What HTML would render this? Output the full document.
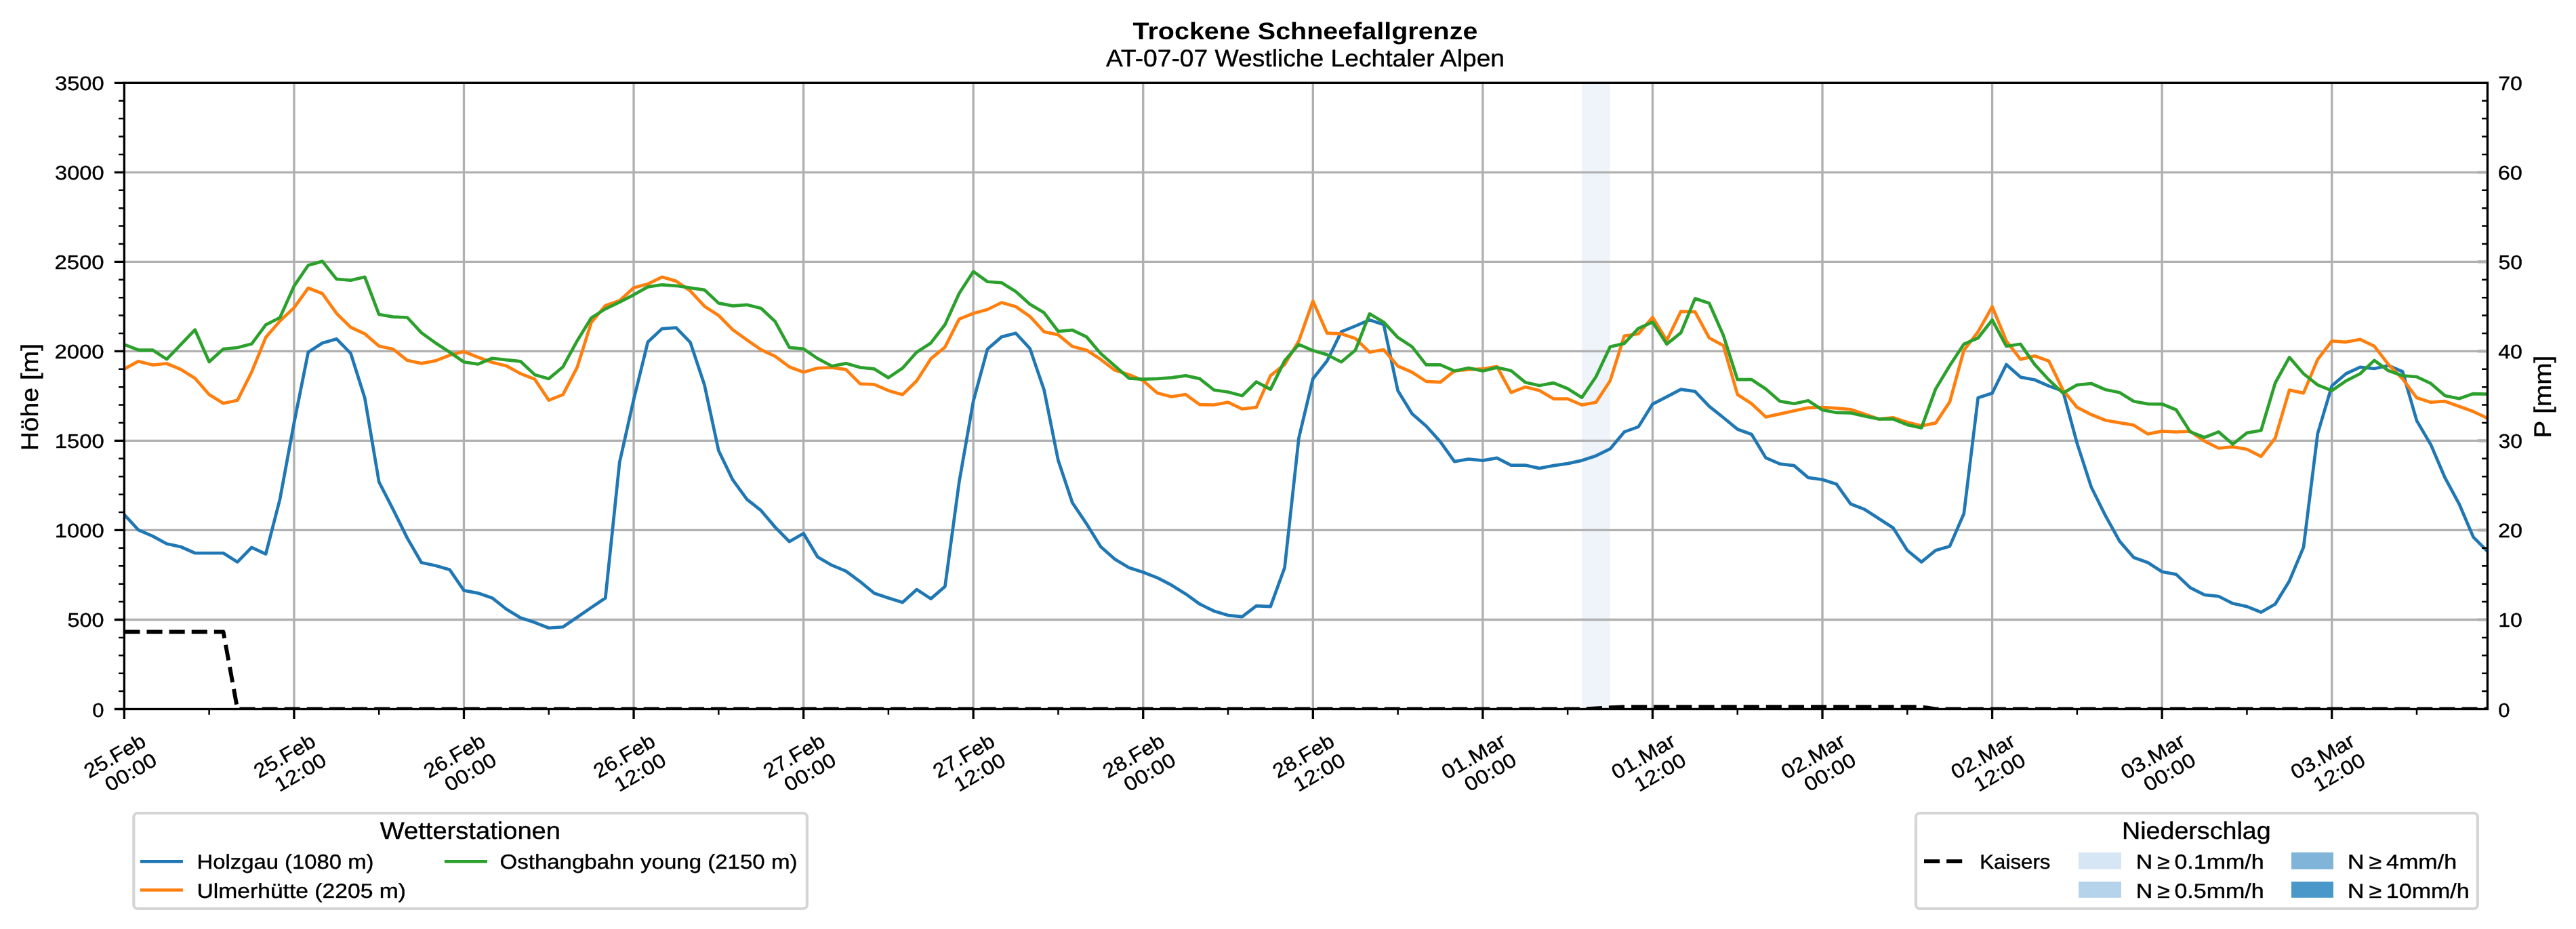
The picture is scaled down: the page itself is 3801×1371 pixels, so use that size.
<!DOCTYPE html>
<html><head><meta charset="utf-8"><title>Trockene Schneefallgrenze</title><style>html,body{margin:0;padding:0;background:#fff;overflow:hidden}svg{display:block;will-change:transform}text{font-family:"Liberation Sans",sans-serif;stroke:#000;stroke-width:0.4px}</style></head><body>
<svg width="3801" height="1371" viewBox="0 0 3801 1371" font-family="Liberation Sans, sans-serif" stroke-linejoin="round" text-rendering="geometricPrecision">
<rect x="0" y="0" width="3801" height="1371" fill="#ffffff"/>
<defs><clipPath id="ax"><rect x="183.35" y="122.3" width="3487.05" height="924.2"/></clipPath></defs>
<rect x="2334.05" y="122.3" width="41.76" height="924.2" fill="#eef4fa"/>
<path d="M433.92 122.3V1046.5M684.48 122.3V1046.5M935.05 122.3V1046.5M1185.62 122.3V1046.5M1436.18 122.3V1046.5M1686.75 122.3V1046.5M1937.32 122.3V1046.5M2187.88 122.3V1046.5M2438.45 122.3V1046.5M2689.01 122.3V1046.5M2939.58 122.3V1046.5M3190.15 122.3V1046.5M3440.71 122.3V1046.5M183.35 914.47H3670.4M183.35 782.44H3670.4M183.35 650.41H3670.4M183.35 518.39H3670.4M183.35 386.36H3670.4M183.35 254.33H3670.4" stroke="#b0b0b0" stroke-width="3.333" fill="none"/>
<g clip-path="url(#ax)" fill="none" stroke-width="4.7" stroke-linejoin="round" stroke-linecap="square">
<path d="M183.35 759.47 L204.23 782.18 L225.11 791.16 L245.99 802.51 L266.87 807.00 L287.75 816.24 L308.63 816.24 L329.51 816.24 L350.39 829.45 L371.27 807.79 L392.16 817.56 L413.04 736.76 L433.92 624.01 L454.80 519.73 L475.68 506.24 L496.56 500.17 L517.44 521.29 L538.32 587.57 L559.20 711.23 L580.08 751.92 L600.96 794.11 L621.84 830.29 L642.72 834.81 L663.60 840.83 L684.48 871.43 L705.36 875.35 L726.24 882.44 L747.12 899.02 L768.01 911.67 L788.89 918.59 L809.77 926.72 L830.65 925.22 L851.53 911.07 L872.41 896.59 L893.29 882.44 L914.17 682.60 L935.05 589.68 L955.93 504.68 L976.81 485.09 L997.69 483.58 L1018.57 505.26 L1039.45 567.98 L1060.33 664.94 L1081.21 708.24 L1102.09 736.87 L1122.97 753.42 L1143.85 778.14 L1164.74 799.24 L1185.62 787.20 L1206.50 822.00 L1227.38 834.20 L1248.26 842.94 L1269.14 858.31 L1290.02 875.50 L1310.90 882.44 L1331.78 889.07 L1352.66 870.06 L1373.54 883.63 L1394.42 865.54 L1415.30 711.23 L1436.18 592.06 L1457.06 515.22 L1477.94 497.13 L1498.82 491.72 L1519.70 514.32 L1540.59 575.50 L1561.47 679.59 L1582.35 741.99 L1603.23 773.02 L1624.11 806.79 L1644.99 825.17 L1665.87 837.82 L1686.75 844.44 L1707.63 852.59 L1728.51 863.43 L1749.39 876.39 L1770.27 891.47 L1791.15 901.72 L1812.03 908.05 L1832.91 910.17 L1853.79 894.19 L1874.67 895.09 L1895.55 837.82 L1916.43 646.45 L1937.32 558.92 L1958.20 532.55 L1979.08 489.60 L1999.96 481.15 L2020.84 472.12 L2041.72 479.04 L2062.60 576.48 L2083.48 610.41 L2104.36 628.76 L2125.24 651.92 L2146.12 681.18 L2167.00 677.53 L2187.88 679.65 L2208.76 675.86 L2229.64 686.54 L2250.52 686.54 L2271.40 691.08 L2292.28 687.12 L2313.16 684.11 L2334.05 679.59 L2354.93 672.67 L2375.81 662.43 L2396.69 637.40 L2417.57 629.87 L2438.45 596.28 L2459.33 585.72 L2480.21 574.68 L2501.09 577.69 L2521.97 599.69 L2542.85 616.27 L2563.73 633.44 L2584.61 640.99 L2605.49 675.63 L2626.37 684.69 L2647.25 687.09 L2668.13 704.89 L2689.01 707.71 L2709.90 714.58 L2730.78 743.78 L2751.66 751.92 L2772.54 765.49 L2793.42 779.04 L2814.30 812.20 L2835.18 829.39 L2856.06 812.20 L2876.94 806.18 L2897.82 757.96 L2918.70 587.07 L2939.58 580.18 L2960.46 537.93 L2981.34 556.62 L3002.22 560.53 L3023.10 569.59 L3043.98 577.11 L3064.86 654.38 L3085.74 718.78 L3106.63 760.98 L3127.51 798.63 L3148.39 822.76 L3169.27 830.29 L3190.15 843.70 L3211.03 847.66 L3231.91 867.36 L3252.79 877.90 L3273.67 880.01 L3294.55 890.57 L3315.43 895.09 L3336.31 903.54 L3357.19 891.47 L3378.07 857.41 L3398.95 807.69 L3419.83 639.85 L3440.71 569.59 L3461.59 551.50 L3482.48 541.89 L3503.36 544.00 L3524.24 539.46 L3545.12 548.49 L3566.00 620.84 L3586.88 656.38 L3607.76 705.21 L3628.64 743.78 L3649.52 792.61 L3670.40 813.71" stroke="#1f77b4"/>
<path d="M183.35 544.61 L204.23 533.17 L225.11 538.59 L245.99 536.47 L266.87 545.21 L287.75 558.18 L308.63 582.29 L329.51 595.23 L350.39 590.74 L371.27 549.12 L392.16 497.89 L413.04 473.76 L433.92 454.13 L454.80 425.03 L475.68 433.25 L496.56 462.48 L517.44 483.00 L538.32 492.61 L559.20 510.73 L580.08 515.22 L600.96 531.80 L621.84 536.34 L642.72 532.38 L663.60 524.27 L684.48 518.83 L705.36 527.28 L726.24 534.81 L747.12 539.93 L768.01 551.39 L788.89 559.53 L809.77 590.58 L830.65 582.42 L851.53 542.41 L872.41 476.03 L893.29 451.05 L914.17 443.79 L935.05 424.80 L955.93 419.06 L976.81 408.83 L997.69 414.88 L1018.57 429.32 L1039.45 451.92 L1060.33 465.50 L1081.21 486.59 L1102.09 501.67 L1122.97 516.11 L1143.85 525.78 L1164.74 541.44 L1185.62 549.28 L1206.50 543.26 L1227.38 542.36 L1248.26 545.37 L1269.14 566.47 L1290.02 567.37 L1310.90 576.40 L1331.78 582.42 L1352.66 561.96 L1373.54 529.40 L1394.42 512.21 L1415.30 470.91 L1436.18 462.48 L1457.06 456.74 L1477.94 446.51 L1498.82 452.53 L1519.70 467.00 L1540.59 489.60 L1561.47 494.12 L1582.35 511.31 L1603.23 516.72 L1624.11 530.29 L1644.99 546.27 L1665.87 552.90 L1686.75 561.69 L1707.63 580.00 L1728.51 585.46 L1749.39 582.13 L1770.27 597.21 L1791.15 597.50 L1812.03 593.59 L1832.91 603.54 L1853.79 601.11 L1874.67 554.40 L1895.55 537.82 L1916.43 503.18 L1937.32 444.40 L1958.20 491.72 L1979.08 492.61 L1999.96 499.56 L2020.84 519.73 L2041.72 516.11 L2062.60 540.25 L2083.48 549.28 L2104.36 562.85 L2125.24 564.04 L2146.12 547.46 L2167.00 545.37 L2187.88 544.45 L2208.76 540.90 L2229.64 579.22 L2250.52 571.09 L2271.40 576.21 L2292.28 588.57 L2313.16 588.57 L2334.05 597.60 L2354.93 593.69 L2375.81 562.06 L2396.69 495.76 L2417.57 492.72 L2438.45 468.21 L2459.33 502.54 L2480.21 459.55 L2501.09 460.13 L2521.97 498.71 L2542.85 509.88 L2563.73 582.21 L2584.61 595.75 L2605.49 615.35 L2626.37 610.83 L2647.25 606.32 L2668.13 601.80 L2689.01 601.04 L2709.90 602.36 L2730.78 604.26 L2751.66 611.18 L2772.54 618.41 L2793.42 616.30 L2814.30 623.22 L2835.18 628.37 L2856.06 624.43 L2876.94 593.09 L2897.82 516.85 L2918.70 489.71 L2939.58 452.64 L2960.46 503.07 L2981.34 530.40 L3002.22 525.28 L3023.10 532.83 L3043.98 575.61 L3064.86 601.22 L3085.74 611.78 L3106.63 620.23 L3127.51 623.85 L3148.39 627.44 L3169.27 640.41 L3190.15 636.42 L3211.03 637.48 L3231.91 636.50 L3252.79 650.97 L3273.67 661.50 L3294.55 659.39 L3315.43 663.01 L3336.31 673.57 L3357.19 646.45 L3378.07 575.61 L3398.95 580.12 L3419.83 530.40 L3440.71 503.28 L3461.59 504.79 L3482.48 500.88 L3503.36 510.81 L3524.24 537.93 L3545.12 559.05 L3566.00 587.07 L3586.88 593.69 L3607.76 592.19 L3628.64 599.72 L3649.52 607.27 L3670.40 617.20" stroke="#ff7f0e"/>
<path d="M183.35 508.43 L204.23 516.54 L225.11 516.54 L245.99 530.14 L266.87 508.43 L287.75 486.73 L308.63 534.07 L329.51 515.06 L350.39 512.97 L371.27 507.56 L392.16 479.31 L413.04 468.74 L433.92 422.16 L454.80 391.51 L475.68 385.62 L496.56 411.84 L517.44 413.66 L538.32 408.83 L559.20 463.99 L580.08 467.61 L600.96 468.48 L621.84 491.11 L642.72 506.19 L663.60 519.71 L684.48 534.23 L705.36 537.31 L726.24 528.79 L747.12 531.19 L768.01 533.30 L788.89 552.90 L809.77 558.92 L830.65 541.44 L851.53 503.18 L872.41 469.11 L893.29 455.86 L914.17 445.90 L935.05 435.05 L955.93 423.33 L976.81 420.29 L997.69 421.79 L1018.57 424.80 L1039.45 427.81 L1060.33 447.41 L1081.21 451.32 L1102.09 449.81 L1122.97 454.93 L1143.85 474.55 L1164.74 512.84 L1185.62 514.91 L1206.50 529.09 L1227.38 540.25 L1248.26 536.34 L1269.14 542.36 L1290.02 544.45 L1310.90 557.41 L1331.78 543.26 L1352.66 519.73 L1373.54 506.19 L1394.42 479.04 L1415.30 432.94 L1436.18 400.70 L1457.06 415.77 L1477.94 417.28 L1498.82 430.22 L1519.70 448.91 L1540.59 461.56 L1561.47 489.00 L1582.35 487.20 L1603.23 497.13 L1624.11 521.84 L1644.99 539.93 L1665.87 558.31 L1686.75 559.53 L1707.63 558.92 L1728.51 557.41 L1749.39 554.40 L1770.27 558.92 L1791.15 575.50 L1812.03 578.51 L1832.91 583.95 L1853.79 563.46 L1874.67 574.60 L1895.55 532.41 L1916.43 508.30 L1937.32 517.33 L1958.20 523.52 L1979.08 534.23 L1999.96 516.72 L2020.84 463.09 L2041.72 475.42 L2062.60 498.05 L2083.48 511.60 L2104.36 538.43 L2125.24 538.43 L2146.12 547.46 L2167.00 542.94 L2187.88 547.46 L2208.76 542.40 L2229.64 546.98 L2250.52 564.17 L2271.40 568.98 L2292.28 565.07 L2313.16 573.49 L2334.05 586.75 L2354.93 556.01 L2375.81 511.73 L2396.69 506.90 L2417.57 484.59 L2438.45 475.34 L2459.33 507.82 L2480.21 491.19 L2501.09 440.54 L2521.97 447.49 L2542.85 494.81 L2563.73 560.21 L2584.61 560.21 L2605.49 574.08 L2626.37 592.16 L2647.25 595.75 L2668.13 591.24 L2689.01 605.00 L2709.90 608.96 L2730.78 609.38 L2751.66 614.19 L2772.54 618.41 L2793.42 618.41 L2814.30 626.86 L2835.18 631.38 L2856.06 574.10 L2876.94 539.46 L2897.82 507.82 L2918.70 498.77 L2939.58 472.18 L2960.46 510.99 L2981.34 507.80 L3002.22 537.93 L3023.10 560.53 L3043.98 580.12 L3064.86 568.08 L3085.74 565.97 L3106.63 575.00 L3127.51 579.22 L3148.39 592.19 L3169.27 596.10 L3190.15 596.28 L3211.03 604.73 L3231.91 637.40 L3252.79 645.53 L3273.67 637.40 L3294.55 655.48 L3315.43 638.90 L3336.31 635.28 L3357.19 565.07 L3378.07 527.39 L3398.95 551.50 L3419.83 568.08 L3440.71 576.50 L3461.59 562.06 L3482.48 551.50 L3503.36 531.91 L3524.24 546.98 L3545.12 554.51 L3566.00 556.01 L3586.88 565.97 L3607.76 584.06 L3628.64 588.28 L3649.52 581.05 L3670.40 581.65" stroke="#2ca02c"/>
<path d="M183.35 932.56 L204.23 932.56 L225.11 932.56 L245.99 932.56 L266.87 932.56 L287.75 932.56 L308.63 932.56 L329.51 932.56 L350.39 1046.50 L371.27 1046.50 L392.16 1046.50 L413.04 1046.50 L433.92 1046.50 L454.80 1046.50 L475.68 1046.50 L496.56 1046.50 L517.44 1046.50 L538.32 1046.50 L559.20 1046.50 L580.08 1046.50 L600.96 1046.50 L621.84 1046.50 L642.72 1046.50 L663.60 1046.50 L684.48 1046.50 L705.36 1046.50 L726.24 1046.50 L747.12 1046.50 L768.01 1046.50 L788.89 1046.50 L809.77 1046.50 L830.65 1046.50 L851.53 1046.50 L872.41 1046.50 L893.29 1046.50 L914.17 1046.50 L935.05 1046.50 L955.93 1046.50 L976.81 1046.50 L997.69 1046.50 L1018.57 1046.50 L1039.45 1046.50 L1060.33 1046.50 L1081.21 1046.50 L1102.09 1046.50 L1122.97 1046.50 L1143.85 1046.50 L1164.74 1046.50 L1185.62 1046.50 L1206.50 1046.50 L1227.38 1046.50 L1248.26 1046.50 L1269.14 1046.50 L1290.02 1046.50 L1310.90 1046.50 L1331.78 1046.50 L1352.66 1046.50 L1373.54 1046.50 L1394.42 1046.50 L1415.30 1046.50 L1436.18 1046.50 L1457.06 1046.50 L1477.94 1046.50 L1498.82 1046.50 L1519.70 1046.50 L1540.59 1046.50 L1561.47 1046.50 L1582.35 1046.50 L1603.23 1046.50 L1624.11 1046.50 L1644.99 1046.50 L1665.87 1046.50 L1686.75 1046.50 L1707.63 1046.50 L1728.51 1046.50 L1749.39 1046.50 L1770.27 1046.50 L1791.15 1046.50 L1812.03 1046.50 L1832.91 1046.50 L1853.79 1046.50 L1874.67 1046.50 L1895.55 1046.50 L1916.43 1046.50 L1937.32 1046.50 L1958.20 1046.50 L1979.08 1046.50 L1999.96 1046.50 L2020.84 1046.50 L2041.72 1046.50 L2062.60 1046.50 L2083.48 1046.50 L2104.36 1046.50 L2125.24 1046.50 L2146.12 1046.50 L2167.00 1046.50 L2187.88 1046.50 L2208.76 1046.50 L2229.64 1046.50 L2250.52 1046.50 L2271.40 1046.50 L2292.28 1046.50 L2313.16 1046.50 L2334.05 1046.50 L2354.93 1045.44 L2375.81 1044.26 L2396.69 1043.20 L2417.57 1043.20 L2438.45 1043.20 L2459.33 1043.20 L2480.21 1043.20 L2501.09 1043.20 L2521.97 1043.20 L2542.85 1043.20 L2563.73 1043.20 L2584.61 1043.20 L2605.49 1043.20 L2626.37 1043.20 L2647.25 1043.20 L2668.13 1043.20 L2689.01 1043.20 L2709.90 1043.20 L2730.78 1043.20 L2751.66 1043.20 L2772.54 1043.20 L2793.42 1043.20 L2814.30 1043.20 L2835.18 1043.20 L2856.06 1046.50 L2876.94 1046.50 L2897.82 1046.50 L2918.70 1046.50 L2939.58 1046.50 L2960.46 1046.50 L2981.34 1046.50 L3002.22 1046.50 L3023.10 1046.50 L3043.98 1046.50 L3064.86 1046.50 L3085.74 1046.50 L3106.63 1046.50 L3127.51 1046.50 L3148.39 1046.50 L3169.27 1046.50 L3190.15 1046.50 L3211.03 1046.50 L3231.91 1046.50 L3252.79 1046.50 L3273.67 1046.50 L3294.55 1046.50 L3315.43 1046.50 L3336.31 1046.50 L3357.19 1046.50 L3378.07 1046.50 L3398.95 1046.50 L3419.83 1046.50 L3440.71 1046.50 L3461.59 1046.50 L3482.48 1046.50 L3503.36 1046.50 L3524.24 1046.50 L3545.12 1046.50 L3566.00 1046.50 L3586.88 1046.50 L3607.76 1046.50 L3628.64 1046.50 L3649.52 1046.50 L3670.40 1046.50" stroke="#000000" stroke-width="5.9" stroke-linecap="butt" stroke-dasharray="23.125 10"/>
</g>
<rect x="183.35" y="122.3" width="3487.05" height="924.2" fill="none" stroke="#000" stroke-width="3.333" stroke-linejoin="miter"/>
<path d="M183.35 1046.50h-14.58M183.35 914.47h-14.58M183.35 782.44h-14.58M183.35 650.41h-14.58M183.35 518.39h-14.58M183.35 386.36h-14.58M183.35 254.33h-14.58M183.35 122.30h-14.58M183.35 1046.5v14.58M433.92 1046.5v14.58M684.48 1046.5v14.58M935.05 1046.5v14.58M1185.62 1046.5v14.58M1436.18 1046.5v14.58M1686.75 1046.5v14.58M1937.32 1046.5v14.58M2187.88 1046.5v14.58M2438.45 1046.5v14.58M2689.01 1046.5v14.58M2939.58 1046.5v14.58M3190.15 1046.5v14.58M3440.71 1046.5v14.58" stroke="#000" stroke-width="3.333"/>
<path d="M183.35 1020.09h-8.33M183.35 993.69h-8.33M183.35 967.28h-8.33M183.35 940.88h-8.33M183.35 888.07h-8.33M183.35 861.66h-8.33M183.35 835.25h-8.33M183.35 808.85h-8.33M183.35 756.04h-8.33M183.35 729.63h-8.33M183.35 703.23h-8.33M183.35 676.82h-8.33M183.35 624.01h-8.33M183.35 597.60h-8.33M183.35 571.20h-8.33M183.35 544.79h-8.33M183.35 491.98h-8.33M183.35 465.57h-8.33M183.35 439.17h-8.33M183.35 412.76h-8.33M183.35 359.95h-8.33M183.35 333.55h-8.33M183.35 307.14h-8.33M183.35 280.73h-8.33M183.35 227.92h-8.33M183.35 201.52h-8.33M183.35 175.11h-8.33M183.35 148.71h-8.33M308.63 1046.5v8.33M559.20 1046.5v8.33M809.77 1046.5v8.33M1060.33 1046.5v8.33M1310.90 1046.5v8.33M1561.47 1046.5v8.33M1812.03 1046.5v8.33M2062.60 1046.5v8.33M2313.16 1046.5v8.33M2563.73 1046.5v8.33M2814.30 1046.5v8.33M3064.86 1046.5v8.33M3315.43 1046.5v8.33M3566.00 1046.5v8.33M3670.4 1020.09h-8.33M3670.4 993.69h-8.33M3670.4 967.28h-8.33M3670.4 940.88h-8.33M3670.4 888.07h-8.33M3670.4 861.66h-8.33M3670.4 835.25h-8.33M3670.4 808.85h-8.33M3670.4 756.04h-8.33M3670.4 729.63h-8.33M3670.4 703.23h-8.33M3670.4 676.82h-8.33M3670.4 624.01h-8.33M3670.4 597.60h-8.33M3670.4 571.20h-8.33M3670.4 544.79h-8.33M3670.4 491.98h-8.33M3670.4 465.57h-8.33M3670.4 439.17h-8.33M3670.4 412.76h-8.33M3670.4 359.95h-8.33M3670.4 333.55h-8.33M3670.4 307.14h-8.33M3670.4 280.73h-8.33M3670.4 227.92h-8.33M3670.4 201.52h-8.33M3670.4 175.11h-8.33M3670.4 148.71h-8.33" stroke="#000" stroke-width="2.5"/>
<path d="M3668.73 914.47h-12.9M3668.73 782.44h-12.9M3668.73 650.41h-12.9M3668.73 518.39h-12.9M3668.73 386.36h-12.9M3668.73 254.33h-12.9" stroke="#b0b0b0" stroke-width="4.17"/>
<g fill="#000">
<text x="136.35" y="1057.50" font-size="29.17" textLength="17.22" lengthAdjust="spacingAndGlyphs">0</text>
<text x="99.61" y="925.47" font-size="29.17" textLength="53.98" lengthAdjust="spacingAndGlyphs">500</text>
<text x="80.80" y="793.44" font-size="29.17" textLength="72.84" lengthAdjust="spacingAndGlyphs">1000</text>
<text x="80.80" y="661.41" font-size="29.17" textLength="72.84" lengthAdjust="spacingAndGlyphs">1500</text>
<text x="80.51" y="529.39" font-size="29.17" textLength="73.13" lengthAdjust="spacingAndGlyphs">2000</text>
<text x="80.51" y="397.36" font-size="29.17" textLength="73.13" lengthAdjust="spacingAndGlyphs">2500</text>
<text x="81.07" y="265.33" font-size="29.17" textLength="72.56" lengthAdjust="spacingAndGlyphs">3000</text>
<text x="81.07" y="133.30" font-size="29.17" textLength="72.56" lengthAdjust="spacingAndGlyphs">3500</text>
<text x="3686.18" y="1057.50" font-size="29.17" textLength="17.22" lengthAdjust="spacingAndGlyphs">0</text>
<text x="3686.28" y="925.47" font-size="29.17" textLength="35.61" lengthAdjust="spacingAndGlyphs">10</text>
<text x="3685.96" y="793.44" font-size="29.17" textLength="35.93" lengthAdjust="spacingAndGlyphs">20</text>
<text x="3686.52" y="661.41" font-size="29.17" textLength="35.35" lengthAdjust="spacingAndGlyphs">30</text>
<text x="3686.19" y="529.39" font-size="29.17" textLength="35.70" lengthAdjust="spacingAndGlyphs">40</text>
<text x="3686.52" y="397.36" font-size="29.17" textLength="35.35" lengthAdjust="spacingAndGlyphs">50</text>
<text x="3685.83" y="265.33" font-size="29.17" textLength="36.07" lengthAdjust="spacingAndGlyphs">60</text>
<text x="3686.22" y="133.30" font-size="29.17" textLength="35.66" lengthAdjust="spacingAndGlyphs">70</text>
<g transform="translate(132.77 1148.49) rotate(-30)"><text x="-1.47" y="0.00" font-size="29.99" textLength="99.07" lengthAdjust="spacingAndGlyphs">25.Feb</text></g>
<g transform="translate(161.53 1169.30) rotate(-30)"><text x="0.60" y="0.00" font-size="29.17" textLength="82.83" lengthAdjust="spacingAndGlyphs">00:00</text></g>
<g transform="translate(383.34 1148.49) rotate(-30)"><text x="-1.47" y="0.00" font-size="29.99" textLength="99.07" lengthAdjust="spacingAndGlyphs">25.Feb</text></g>
<g transform="translate(411.77 1169.49) rotate(-30)"><text x="0.70" y="0.00" font-size="29.17" textLength="82.73" lengthAdjust="spacingAndGlyphs">12:00</text></g>
<g transform="translate(633.91 1148.49) rotate(-30)"><text x="-1.47" y="0.00" font-size="29.99" textLength="99.07" lengthAdjust="spacingAndGlyphs">26.Feb</text></g>
<g transform="translate(662.66 1169.30) rotate(-30)"><text x="0.60" y="0.00" font-size="29.17" textLength="82.83" lengthAdjust="spacingAndGlyphs">00:00</text></g>
<g transform="translate(884.47 1148.49) rotate(-30)"><text x="-1.47" y="0.00" font-size="29.99" textLength="99.07" lengthAdjust="spacingAndGlyphs">26.Feb</text></g>
<g transform="translate(912.91 1169.49) rotate(-30)"><text x="0.70" y="0.00" font-size="29.17" textLength="82.73" lengthAdjust="spacingAndGlyphs">12:00</text></g>
<g transform="translate(1135.04 1148.49) rotate(-30)"><text x="-1.47" y="0.00" font-size="29.99" textLength="99.07" lengthAdjust="spacingAndGlyphs">27.Feb</text></g>
<g transform="translate(1163.80 1169.30) rotate(-30)"><text x="0.60" y="0.00" font-size="29.17" textLength="82.83" lengthAdjust="spacingAndGlyphs">00:00</text></g>
<g transform="translate(1385.61 1148.49) rotate(-30)"><text x="-1.47" y="0.00" font-size="29.99" textLength="99.07" lengthAdjust="spacingAndGlyphs">27.Feb</text></g>
<g transform="translate(1414.04 1169.49) rotate(-30)"><text x="0.70" y="0.00" font-size="29.17" textLength="82.73" lengthAdjust="spacingAndGlyphs">12:00</text></g>
<g transform="translate(1636.12 1148.56) rotate(-30)"><text x="-1.47" y="0.00" font-size="29.99" textLength="99.07" lengthAdjust="spacingAndGlyphs">28.Feb</text></g>
<g transform="translate(1664.98 1169.30) rotate(-30)"><text x="0.60" y="0.00" font-size="29.17" textLength="82.83" lengthAdjust="spacingAndGlyphs">00:00</text></g>
<g transform="translate(1886.68 1148.56) rotate(-30)"><text x="-1.47" y="0.00" font-size="29.99" textLength="99.07" lengthAdjust="spacingAndGlyphs">28.Feb</text></g>
<g transform="translate(1915.23 1169.49) rotate(-30)"><text x="0.70" y="0.00" font-size="29.17" textLength="82.73" lengthAdjust="spacingAndGlyphs">12:00</text></g>
<g transform="translate(2135.79 1150.24) rotate(-30)"><text x="-1.37" y="0.00" font-size="29.99" textLength="103.17" lengthAdjust="spacingAndGlyphs">01.Mar</text></g>
<g transform="translate(2167.58 1169.30) rotate(-30)"><text x="0.60" y="0.00" font-size="29.17" textLength="82.83" lengthAdjust="spacingAndGlyphs">00:00</text></g>
<g transform="translate(2386.36 1150.24) rotate(-30)"><text x="-1.37" y="0.00" font-size="29.99" textLength="103.17" lengthAdjust="spacingAndGlyphs">01.Mar</text></g>
<g transform="translate(2417.82 1169.49) rotate(-30)"><text x="0.70" y="0.00" font-size="29.17" textLength="82.73" lengthAdjust="spacingAndGlyphs">12:00</text></g>
<g transform="translate(2636.98 1150.18) rotate(-30)"><text x="-1.37" y="0.00" font-size="29.99" textLength="103.17" lengthAdjust="spacingAndGlyphs">02.Mar</text></g>
<g transform="translate(2668.66 1169.30) rotate(-30)"><text x="0.60" y="0.00" font-size="29.17" textLength="82.83" lengthAdjust="spacingAndGlyphs">00:00</text></g>
<g transform="translate(2887.54 1150.18) rotate(-30)"><text x="-1.37" y="0.00" font-size="29.99" textLength="103.17" lengthAdjust="spacingAndGlyphs">02.Mar</text></g>
<g transform="translate(2918.90 1169.49) rotate(-30)"><text x="0.70" y="0.00" font-size="29.17" textLength="82.73" lengthAdjust="spacingAndGlyphs">12:00</text></g>
<g transform="translate(3138.06 1150.24) rotate(-30)"><text x="-1.37" y="0.00" font-size="29.99" textLength="103.17" lengthAdjust="spacingAndGlyphs">03.Mar</text></g>
<g transform="translate(3169.84 1169.30) rotate(-30)"><text x="0.60" y="0.00" font-size="29.17" textLength="82.83" lengthAdjust="spacingAndGlyphs">00:00</text></g>
<g transform="translate(3388.62 1150.24) rotate(-30)"><text x="-1.37" y="0.00" font-size="29.99" textLength="103.17" lengthAdjust="spacingAndGlyphs">03.Mar</text></g>
<g transform="translate(3420.09 1169.49) rotate(-30)"><text x="0.70" y="0.00" font-size="29.17" textLength="82.73" lengthAdjust="spacingAndGlyphs">12:00</text></g>
<text x="1671.58" y="58.10" font-size="35.50" font-weight="bold" style="stroke:none" textLength="508.81" lengthAdjust="spacingAndGlyphs">Trockene Schneefallgrenze</text>
<text x="1631.97" y="98.00" font-size="35.50" textLength="588.06" lengthAdjust="spacingAndGlyphs">AT-07-07 Westliche Lechtaler Alpen</text>
<g transform="translate(56.30 0) rotate(-90)"><text x="-665.36" y="0.00" font-size="35.50" textLength="158.55" lengthAdjust="spacingAndGlyphs">Höhe [m]</text></g>
<g transform="translate(3764.30 0) rotate(-90)"><text x="-646.64" y="0.00" font-size="35.50" textLength="121.99" lengthAdjust="spacingAndGlyphs">P [mm]</text></g>
</g>
<rect x="197.3" y="1200.0" width="993.55" height="141.00" rx="5.83" fill="#fff" stroke="#d5d5d5" stroke-width="4.17"/>
<rect x="2827.0" y="1200.0" width="828.85" height="141.00" rx="5.83" fill="#fff" stroke="#d5d5d5" stroke-width="4.17"/>
<path d="M209.2 1271.4H267.6" stroke="#1f77b4" stroke-width="4.7" stroke-linecap="square"/>
<path d="M209.2 1313.5H267.6" stroke="#ff7f0e" stroke-width="4.7" stroke-linecap="square"/>
<path d="M658.3 1271.4H716.7" stroke="#2ca02c" stroke-width="4.7" stroke-linecap="square"/>
<path d="M2839.0 1271.1H2897.3" stroke="#000" stroke-width="5.9" stroke-dasharray="23.125 10"/>
<rect x="3067" y="1258" width="63" height="24.9" fill="#d7e6f4"/>
<rect x="3067" y="1301.1" width="63" height="23.7" fill="#b5d3ea"/>
<rect x="3381" y="1258" width="62" height="24.9" fill="#80b5d9"/>
<rect x="3381" y="1301.1" width="62" height="23.7" fill="#4a97c9"/>
<g fill="#000">
<text x="560.77" y="1238.20" font-size="35.50" textLength="266.24" lengthAdjust="spacingAndGlyphs">Wetterstationen</text>
<text x="3131.05" y="1238.20" font-size="35.50" textLength="219.58" lengthAdjust="spacingAndGlyphs">Niederschlag</text>
<text x="290.46" y="1282.00" font-size="29.99" textLength="260.99" lengthAdjust="spacingAndGlyphs">Holzgau (1080 m)</text>
<text x="290.54" y="1324.60" font-size="29.99" textLength="308.37" lengthAdjust="spacingAndGlyphs">Ulmerhütte (2205 m)</text>
<text x="737.49" y="1282.00" font-size="29.99" textLength="438.95" lengthAdjust="spacingAndGlyphs">Osthangbahn young (2150 m)</text>
<text x="2921.19" y="1282.00" font-size="29.99" textLength="104.32" lengthAdjust="spacingAndGlyphs">Kaisers</text>
<text x="3151.67" y="1282.00" font-size="29.99" textLength="188.94" lengthAdjust="spacingAndGlyphs">N ≥ 0.1mm/h</text>
<text x="3151.67" y="1324.60" font-size="29.99" textLength="188.94" lengthAdjust="spacingAndGlyphs">N ≥ 0.5mm/h</text>
<text x="3464.06" y="1282.00" font-size="29.99" textLength="161.06" lengthAdjust="spacingAndGlyphs">N ≥ 4mm/h</text>
<text x="3464.07" y="1324.60" font-size="29.99" textLength="179.60" lengthAdjust="spacingAndGlyphs">N ≥ 10mm/h</text>
</g>
</svg>
</body></html>
